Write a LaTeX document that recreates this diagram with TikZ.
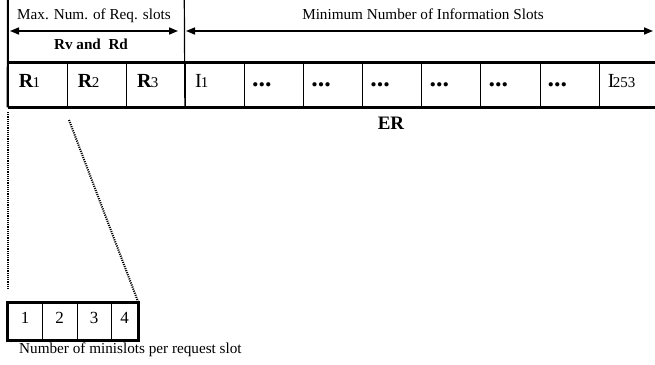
\documentclass[tikz,border=0pt]{standalone}
\usepackage{fontspec}
\setmainfont{Liberation Serif}
\usetikzlibrary{calc,arrows.meta}
\begin{document}
\begin{tikzpicture}[x=1pt,y=-1pt,
  slotcell/.style={draw,line width=0.8pt,minimum width=59.1pt,minimum height=44pt,inner sep=0pt},
  minicell/.style={draw,line width=0.8pt,minimum height=37pt,inner sep=0pt},
  thickrule/.style={line width=2.6pt},
  dimarrow/.style={line width=1.6pt,{Triangle[length=9pt,width=7pt]}-{Triangle[length=9pt,width=7pt]}},
  dotline/.style={line width=2pt,dash pattern=on 1.1pt off 1.1pt},
  hdr/.style={font=\fontsize{15.2}{17}\selectfont,inner sep=0pt},
  dig/.style={font=\fontsize{17}{18}\selectfont,inner sep=0pt}]
\useasboundingbox (0,0) rectangle (655,364);

% frame of the ER slot row
\foreach \i in {0,...,10}
  \node[slotcell] (c\i) at ({8+59.1*\i+29.55},85) {};
\draw[thickrule] (c0.north west) -- (c10.north east);
\draw[thickrule] (c0.south west) -- (c10.south east);
\coordinate (topL) at (8,0);
\coordinate (topS) at (184.3,0);
\draw[line width=2pt] (topL) -- (c0.south west);
\draw[line width=1.2pt] (topS) -- (c3.south west);

% request slots
\foreach \i/\n in {0/1,1/2,2/3}
  \node[anchor=base west,inner sep=0pt] (r\n) at ($(c\i.west)+(11,2)$)
    {\bfseries\fontsize{20}{22}\selectfont R\mdseries\fontsize{15}{16}\selectfont\kern-0.5pt\n};
% information slots
\node[anchor=base west,inner sep=0pt] (i1) at ($(c3.west)+(10,2)$)
  {\fontsize{20}{22}\selectfont I\fontsize{15}{16}\selectfont\kern-1pt 1};
\foreach \i in {4,...,9}
  \node[anchor=base west,inner sep=0pt] (d\i) at ($(c\i.west)+(8,1)$)
    {\bfseries\fontsize{26}{28}\selectfont...};
\node[anchor=base west,inner sep=0pt] (i253) at ($(c10.west)+(9,2)$)
  {\fontsize{20}{22}\selectfont I\fontsize{15}{16}\selectfont\kern-1.5pt 253};

% header arrows and labels
\coordinate (aL1) at (10,31);
\coordinate (aL2) at (178,31);
\coordinate (aR1) at (186,31);
\coordinate (aR2) at (653,31);
\draw[dimarrow] (aL1) -- (aL2);
\draw[dimarrow] (aR1) -- (aR2);
\node[hdr,anchor=base] (maxreq) at (94,19) {Max. Num. of Req. slots};
\node[hdr,anchor=base,font=\bfseries\fontsize{15.2}{17}\selectfont] (rvrd) at (91,49) {Rv and\hspace{0.5em}Rd};
\node[hdr,anchor=base] (mininfo) at (423,19) {Minimum Number of Information Slots};
\node[anchor=base,inner sep=0pt,font=\bfseries\fontsize{19}{21}\selectfont] (er) at (391,129) {ER};

% minislots of one request slot
\node[minicell,minimum width=34pt] (m1) at (25,321.5) {};
\node[minicell,minimum width=35pt] (m2) at (59.5,321.5) {};
\node[minicell,minimum width=34pt] (m3) at (94,321.5) {};
\node[minicell,minimum width=27pt] (m4) at (124.5,321.5) {};
\draw[line width=2.6pt] (m1.north west) rectangle (m4.south east);
\foreach \k in {1,...,4}
  \node[dig,anchor=base] (n\k) at ($(m\k.center)+(0,1.5)$) {\k};
\node[hdr,anchor=base west] (minilab) at (19,353) {Number of minislots per request slot};

% zoom lines from R1 down to the minislots
\coordinate (zl1) at (8,112);
\coordinate (zl2) at (8,289);
\coordinate (zr1) at (69,120);
\draw[dotline] (zl1) -- (zl2);
\draw[dotline] (zr1) -- (m4.north east);
\end{tikzpicture}
\end{document}
